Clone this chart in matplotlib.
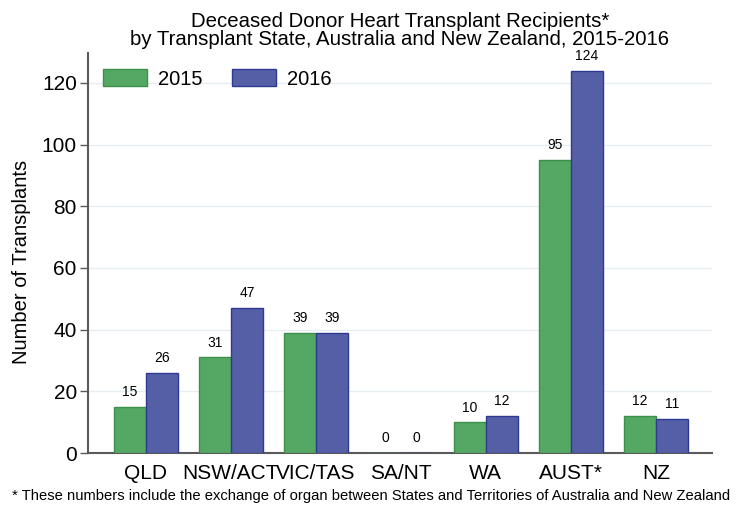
import numpy as np
import matplotlib
matplotlib.use('Agg')
import matplotlib.pyplot as plt

plt.rcParams['font.family'] = ['Liberation Sans', 'DejaVu Sans']

states = ['QLD', 'NSW/ACT', 'VIC/TAS', 'SA/NT', 'WA', 'AUST*', 'NZ']
y2015 = [15, 31, 39, 0, 10, 95, 12]
y2016 = [26, 47, 39, 0, 12, 124, 11]
yticks = [0, 20, 40, 60, 80, 100, 120]

green = '#55a863'
green_edge = '#3c9048'
blue = '#555fa6'
blue_edge = '#2e3a92'
axis_col = '#5a5a5a'

fig = plt.figure(figsize=(7.48, 5.07), dpi=100)
ax = fig.add_axes([0.1176, 0.1065, 0.834, 0.789])

x = np.arange(len(states))
w = 0.376
b1 = ax.bar(x - w/2, y2015, w, color=green, edgecolor=green_edge, linewidth=1, label='2015', zorder=3)
b2 = ax.bar(x + w/2, y2016, w, color=blue, edgecolor=blue_edge, linewidth=1, label='2016', zorder=3)

for bars, vals in ((b1, y2015), (b2, y2016)):
    for r, v in zip(bars, vals):
        ax.annotate(str(v), (r.get_x() + r.get_width()/2, v), xytext=(0, 5.5),
                    textcoords='offset points', ha='center', va='bottom', fontsize=10)

ax.set_xlim(-0.682, 6.659)
ax.set_ylim(0, 129.7)
ax.set_xticks(x)
ax.set_xticklabels(states, fontsize=15)
ax.set_yticks(yticks)
ax.tick_params(axis='y', labelsize=15, length=6, width=1, color=axis_col, pad=2)
ax.tick_params(axis='x', length=0, pad=8)
ax.grid(axis='y', color='#e6eef2', linewidth=1, zorder=0)
for s in ('top', 'right'):
    ax.spines[s].set_visible(False)
for s in ('left', 'bottom'):
    ax.spines[s].set_color(axis_col)
    ax.spines[s].set_linewidth(1.5)

ax.set_ylabel('Number of Transplants', fontsize=14.5)
ax.yaxis.set_label_coords(-0.091, 0.4775)
ax.set_title('Deceased Donor Heart Transplant Recipients*\nby Transplant State, Australia and New Zealand, 2015-2016',
             fontsize=14.7, linespacing=0.88, pad=6)

ax.legend(loc='upper left', ncol=2, frameon=False, fontsize=14.5, handlelength=2.19,
          handleheight=0.95, columnspacing=1.45, handletextpad=0.55,
          borderpad=0, borderaxespad=0,
          bbox_to_anchor=(103/748, 1 - 69/507), bbox_transform=fig.transFigure)

fig.text(12/748, 1 - 500/507, '* These numbers include the exchange of organ between States and Territories of Australia and New Zealand',
         fontsize=10.6)

fig.savefig('out.png', dpi=100)
